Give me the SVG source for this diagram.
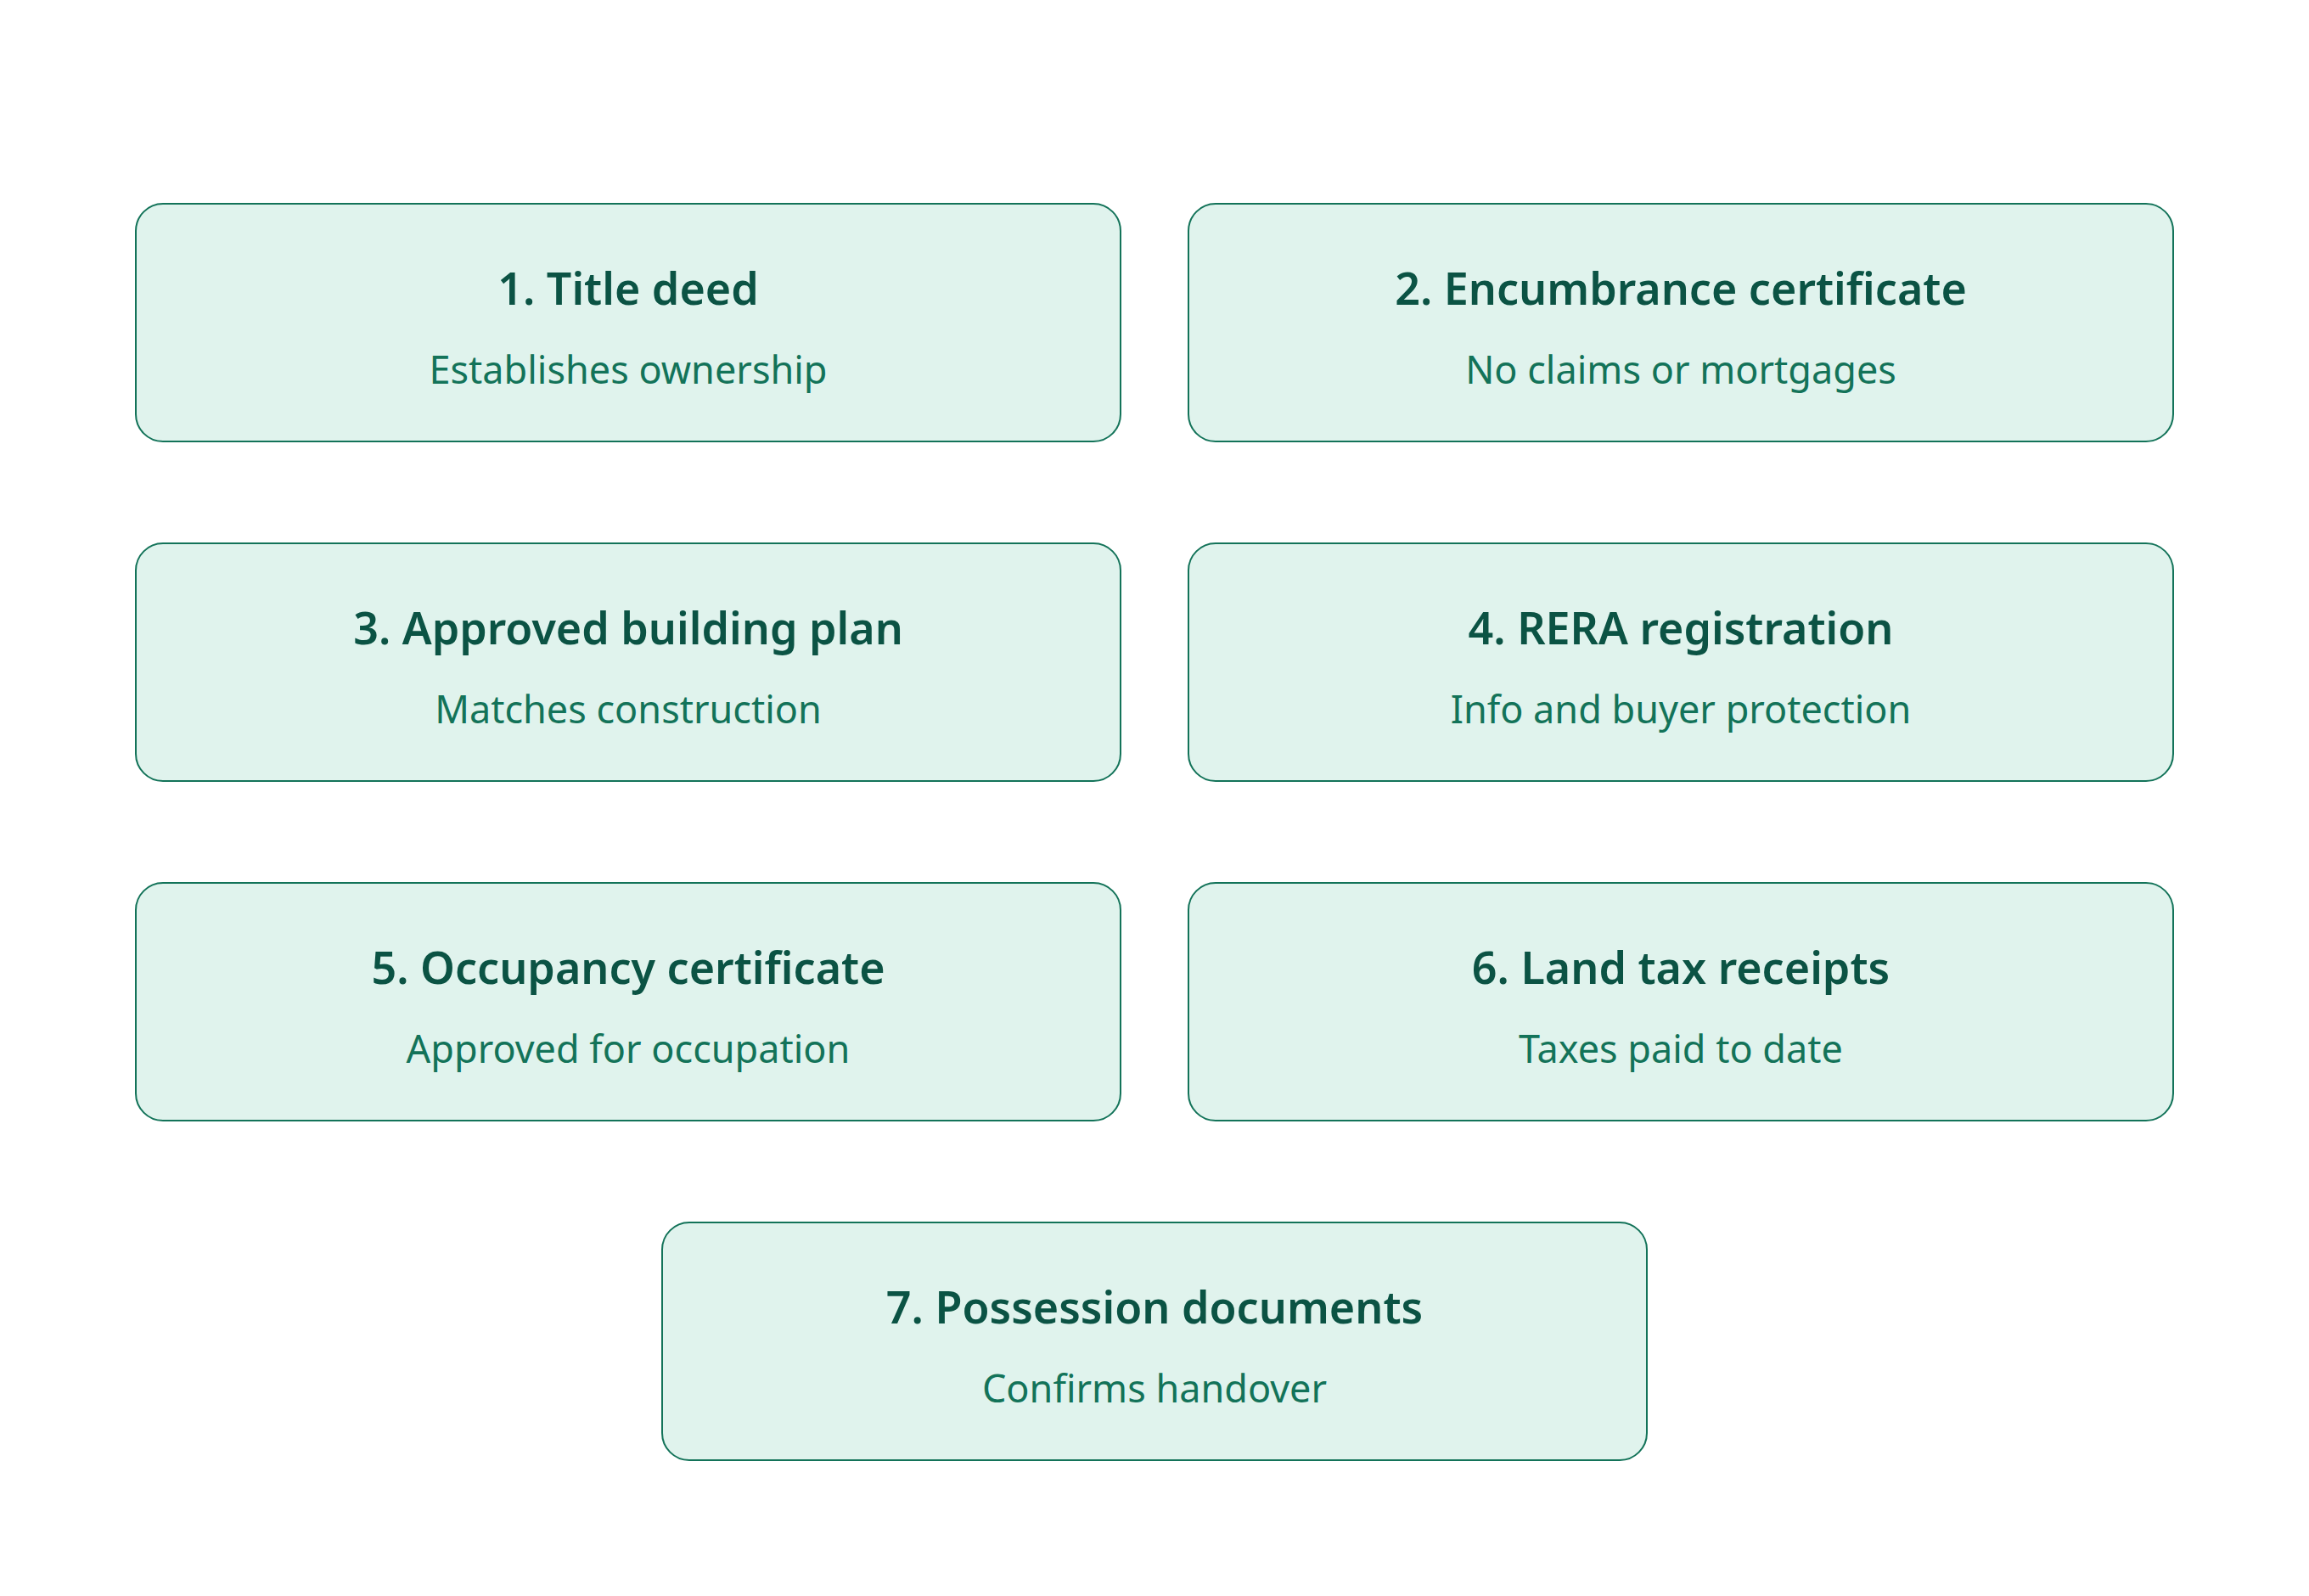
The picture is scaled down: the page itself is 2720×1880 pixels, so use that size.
<svg xmlns="http://www.w3.org/2000/svg" width="2720" height="1880" viewBox="0 0 2720 1880">
<style>
.box{fill:#e0f3ed;stroke:#137359;stroke-width:2}
.t{font-family:"Noto Sans","Open Sans",sans-serif;font-size:52px;font-weight:600;fill:#0b5344;text-anchor:middle}
.s{font-family:"Noto Sans","Open Sans",sans-serif;font-size:45px;font-weight:400;fill:#137359;text-anchor:middle}
</style>
<rect width="2720" height="1880" fill="#ffffff"/>
<g id="connectors"></g>
<g id="n1"><rect class="box" x="160" y="240" width="1160" height="280" rx="32"/><text class="t" x="740" y="359">1. Title deed</text><text class="s" x="740" y="452">Establishes ownership</text></g>
<g id="n2"><rect class="box" x="1400" y="240" width="1160" height="280" rx="32"/><text class="t" x="1980" y="359">2. Encumbrance certificate</text><text class="s" x="1980" y="452">No claims or mortgages</text></g>
<g id="n3"><rect class="box" x="160" y="640" width="1160" height="280" rx="32"/><text class="t" x="740" y="759">3. Approved building plan</text><text class="s" x="740" y="852">Matches construction</text></g>
<g id="n4"><rect class="box" x="1400" y="640" width="1160" height="280" rx="32"/><text class="t" x="1980" y="759">4. RERA registration</text><text class="s" x="1980" y="852">Info and buyer protection</text></g>
<g id="n5"><rect class="box" x="160" y="1040" width="1160" height="280" rx="32"/><text class="t" x="740" y="1159">5. Occupancy certificate</text><text class="s" x="740" y="1252">Approved for occupation</text></g>
<g id="n6"><rect class="box" x="1400" y="1040" width="1160" height="280" rx="32"/><text class="t" x="1980" y="1159">6. Land tax receipts</text><text class="s" x="1980" y="1252">Taxes paid to date</text></g>
<g id="n7"><rect class="box" x="780" y="1440" width="1160" height="280" rx="32"/><text class="t" x="1360" y="1559">7. Possession documents</text><text class="s" x="1360" y="1652">Confirms handover</text></g>
</svg>
